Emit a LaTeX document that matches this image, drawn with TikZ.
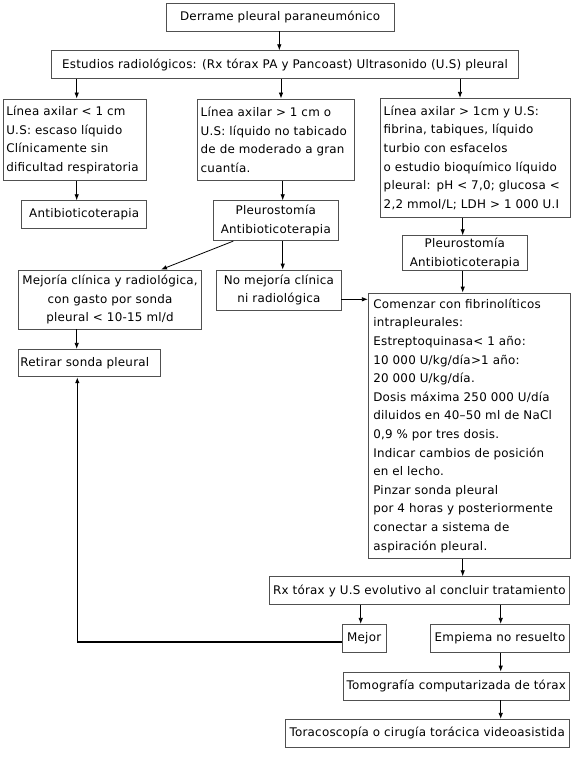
\documentclass[tikz,border=0pt]{standalone}
\usepackage{fontspec}
\setmainfont{DejaVu Sans}[LetterSpace=2.0]
\usetikzlibrary{arrows.meta}
\definecolor{boxgray}{HTML}{505050}
\begin{document}
\begin{tikzpicture}[x=1pt,y=-1pt,
  box/.style={draw=boxgray, line width=0.8pt, inner xsep=4pt, inner ysep=0pt,
    font=\fontsize{11.9}{18.6}\selectfont, text=black, align=center},
  lbox/.style={box, align=left},
  arr/.style={-{Latex[length=6pt,width=4.5pt]}, line width=0.8pt, black},
  fb/.style={arr, line width=1.3pt}]
\useasboundingbox (0,0) rectangle (580,762);
\fill[white] (0,0) rectangle (580,762);

\node[box, minimum width=228.3, minimum height=27.7] (top) at (280.15,17.15) {Derrame pleural paraneumónico};
\node[box, minimum width=466.6, minimum height=27.6, inner xsep=2pt] (est) at (285,64.5) {Estudios radiológicos: (Rx tórax PA y Pancoast) Ultrasonido (U.S) pleural};
\node[lbox, minimum width=143.4, minimum height=81.7, text width=137.4, inner xsep=3pt] (L1) at (75,139.85) {Línea axilar < 1 cm\\U.S: escaso líquido\\Clínicamente sin\\dificultad respiratoria};
\node[lbox, minimum width=156.6, minimum height=81.7, text width=150.6, inner xsep=3pt] (M1) at (276,139.85) {Línea axilar > 1 cm o\\U.S: líquido no tabicado\\de de moderado a gran\\cuantía.};
\node[lbox, minimum width=190, minimum height=119, text width=184, inner xsep=3pt] (R1) at (475.7,157.8) {Línea axilar > 1cm y U.S:\\fibrina, tabiques, líquido\\turbio con esfacelos\\o estudio bioquímico líquido\\pleural: pH < 7,0; glucosa <\\2,2 mmol/L; LDH > 1 000 U.I};
\node[box, minimum width=125, minimum height=27.6] (antib) at (84.2,214.5) {Antibioticoterapia};
\node[box, minimum width=125, minimum height=40] (pleuM) at (275.8,220.7) {Pleurostomía\\Antibioticoterapia};
\node[box, minimum width=125, minimum height=35] (pleuR) at (464.8,253.2) {Pleurostomía\\Antibioticoterapia};
\node[box, minimum width=183.4, minimum height=59, inner xsep=2pt] (mejoria) at (110,299.5) {Mejoría clínica y radiológica,\\con gasto por sonda\\pleural < 10-15 ml/d};
\node[box, minimum width=124.3, minimum height=40] (nomej) at (278.85,290) {No mejoría clínica\\ni radiológica};
\node[lbox, minimum width=141.7, minimum height=27.4, text width=137.7, inner xsep=2pt] (retirar) at (89.15,363) {Retirar sonda pleural};
\node[lbox, minimum width=202.4, minimum height=265.3, text width=192.4, inner xsep=5pt] (comenzar) at (469.5,425.65) {Comenzar con fibrinolíticos\\intrapleurales:\\Estreptoquinasa< 1 año:\\10 000 U/kg/día>1 año:\\20 000 U/kg/día.\\Dosis máxima 250 000 U/día\\diluidos en 40–50 ml de NaCl\\0,9 \% por tres dosis.\\Indicar cambios de posición\\en el lecho.\\Pinzar sonda pleural\\por 4 horas y posteriormente\\conectar a sistema de\\aspiración pleural.};
\node[box, minimum width=300, minimum height=27.6, inner xsep=1pt] (rx) at (419.3,590.5) {Rx tórax y U.S evolutivo al concluir tratamiento};
\node[box, minimum width=43.7, minimum height=28, inner xsep=1pt] (mejor) at (364.15,638.3) {Mejor};
\node[box, minimum width=138.6, minimum height=28, inner xsep=1pt] (empiema) at (500,638.3) {Empiema no resuelto};
\node[box, minimum width=226, minimum height=28, inner xsep=1pt] (tomo) at (456.3,686) {Tomografía computarizada de tórax};
\node[box, minimum width=284.3, minimum height=28, inner xsep=1pt] (tora) at (427.15,733.3) {Toracoscopía o cirugía torácica videoasistida};

\draw[arr] ([xshift=-0.85]top.south) -- ([xshift=-0.85]top.south |- est.north);
\draw[arr] ([xshift=1.7]L1.north |- est.south) -- ([xshift=1.7]L1.north);
\draw[arr] ([xshift=5]M1.north |- est.south) -- ([xshift=5]M1.north);
\draw[arr] ([xshift=-15.7]R1.north |- est.south) -- ([xshift=-15.7]R1.north);
\draw[arr] ([xshift=1.7]L1.south) -- ([xshift=1.7]L1.south |- antib.north);
\draw[arr] ([xshift=6.7]M1.south) -- ([xshift=6.7]M1.south |- pleuM.north);
\draw[arr] ([xshift=-13]R1.south) -- ([xshift=-13]R1.south |- pleuR.north);
\draw[arr] ([xshift=-42.5]pleuM.south) -- ([xshift=51]mejoria.north);
\draw[arr] ([xshift=6.9]pleuM.south) -- ([xshift=6.9]pleuM.south |- nomej.north);
\draw[arr] ([yshift=-9.3]nomej.east) -- ([yshift=-9.3]nomej.east -| comenzar.west);
\draw[arr] ([xshift=-2.1]pleuR.south) -- ([xshift=-2.1]pleuR.south |- comenzar.north);
\draw[arr] ([xshift=-33.3]mejoria.south) -- ([xshift=-33.3]mejoria.south |- retirar.north);
\draw[arr] ([xshift=-6.8]comenzar.south) -- ([xshift=-6.8]comenzar.south |- rx.north);
\draw[arr] ([xshift=-3.45]mejor.north |- rx.south) -- ([xshift=-3.45]mejor.north);
\draw[arr] ([xshift=0.7]empiema.north |- rx.south) -- ([xshift=0.7]empiema.north);
\draw[arr] ([xshift=0.7]empiema.south) -- ([xshift=0.7]empiema.south |- tomo.north);
\draw[arr] ([xshift=0.7]empiema.south |- tomo.south) -- ([xshift=0.7]empiema.south |- tora.north);
\draw[fb] ([yshift=-3.7]mejor.west) -| ([xshift=-11.85]retirar.south);
\end{tikzpicture}
\end{document}
